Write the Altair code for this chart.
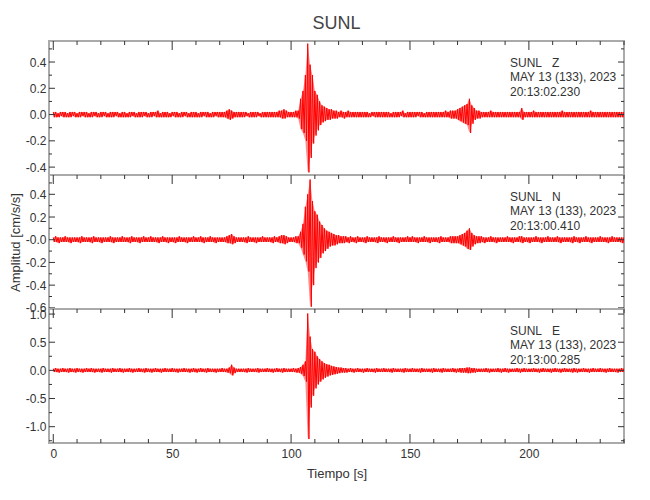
import altair as alt
import pandas as pd

FONT = "Liberation Sans, Arial, sans-serif"
TEXT = "#333333"
TICK = "#333333"
FRAME = "#aaaaaa"
TRACE = "#ff0000"

chart_title = "SUNL"
x_title = "Tiempo [s]"
y_title = "Amplitud [cm/s/s]"
station = "SUNL"
components = ["Z", "N", "E"]
date_text = "MAY 13 (133), 2023"
start_times = ["20:13:02.230", "20:13:00.410", "20:13:00.285"]

# sample times (s); each second holds one positive and one negative peak
t_seconds = list(range(0, 241))

# peak amplitudes in units of 0.01 cm/s/s, read per second from the plot
z_up = [2,2,1,2,2,2,1,2,2,2, 1,2,2,2,2,1,2,2,2,1, 2,2,2,1,2,2,2,2,1,2, 2,1,2,2,2,1,2,2,2,2,
        1,2,2,2,3,1,2,2,2,1, 2,2,2,1,2,2,2,1,2,2, 2,1,2,2,2,2,1,2,2,2, 2,2,2,3,4,3,2,2,2,2,
        2,2,1,2,2,2,2,1,2,2, 2,2,2,2,2,3,3,4,3,2, 2,2,3,3,12,18,30,54,38,30, 18,15,10,7,6,5,4,4,3,3,
        2,3,2,2,3,2,2,2,2,2, 2,2,2,1,2,2,2,2,2,2, 2,2,1,2,2,2,2,3,1,2, 2,2,2,2,2,2,1,2,2,2,
        2,2,2,2,2,3,2,3,3,3, 4,5,6,7,8,12,7,5,3,3, 2,2,2,2,3,2,2,2,2,2, 2,2,2,2,2,2,2,5,2,2,
        2,2,3,2,2,2,2,2,2,2, 2,2,2,2,3,2,2,2,2,2, 2,2,2,2,2,2,3,2,2,2, 2,2,2,2,2,2,2,2,2,2, 2]
z_lo = [-2,-2,-2,-1,-2,-2,-2,-2,-1,-2, -2,-2,-1,-2,-2,-2,-2,-1,-2,-2, -2,-1,-2,-2,-2,-2,-1,-2,-2,-2,
        -2,-2,-2,-1,-2,-2,-2,-2,-1,-2, -2,-2,-1,-2,-2,-2,-2,-2,-2,-2, -1,-2,-2,-2,-2,-1,-2,-2,-2,-2,
        -2,-2,-2,-1,-2,-2,-2,-2,-1,-2, -2,-2,-2,-3,-4,-3,-2,-2,-2,-2, -2,-1,-2,-2,-2,-2,-1,-2,-2,-2,
        -2,-2,-2,-2,-2,-2,-3,-3,-2,-2, -2,-2,-2,-3,-11,-14,-20,-44,-33,-22, -16,-12,-8,-6,-5,-4,-4,-3,-3,-3,
        -2,-2,-3,-2,-2,-2,-2,-2,-2,-2, -2,-2,-2,-2,-1,-2,-2,-2,-2,-2, -2,-2,-2,-2,-2,-2,-1,-2,-2,-2,
        -2,-2,-2,-1,-2,-2,-2,-2,-2,-2, -2,-2,-2,-2,-2,-2,-2,-3,-3,-3, -4,-5,-6,-7,-8,-14,-7,-4,-3,-3,
        -2,-2,-2,-2,-2,-2,-2,-2,-2,-2, -2,-2,-2,-2,-2,-2,-2,-4,-2,-2, -2,-2,-2,-2,-2,-2,-2,-2,-2,-2,
        -2,-2,-2,-2,-2,-2,-2,-2,-2,-2, -2,-2,-2,-2,-2,-2,-2,-2,-2,-2, -2,-2,-2,-2,-2,-2,-2,-2,-2,-2, -2]

n_up = [2,3,2,2,2,3,2,2,2,2, 2,2,3,2,2,2,2,3,2,2, 2,2,2,2,3,2,2,2,2,3, 2,2,2,3,2,2,2,2,3,2,
        2,3,2,2,2,2,3,2,2,2, 2,2,2,3,2,2,2,2,2,3, 2,2,3,2,2,2,3,2,2,2, 2,2,2,3,4,5,3,2,2,2,
        2,2,3,2,2,2,2,2,3,2, 2,2,2,3,2,3,4,4,3,2, 2,2,3,3,7,14,29,40,53,34, 25,22,16,13,10,8,7,6,5,4,
        4,3,3,3,2,3,2,2,3,2, 2,2,3,2,2,2,2,3,2,2, 2,2,2,3,2,2,2,2,2,3, 2,3,2,2,2,2,3,2,2,2,
        2,2,2,3,2,2,2,3,3,3, 3,4,5,6,8,10,6,4,3,3, 3,2,2,2,3,2,2,2,2,2, 2,3,2,2,2,2,3,3,2,2,
        2,2,2,3,2,2,2,2,3,2, 2,2,3,2,2,2,2,2,2,3, 2,2,2,2,3,2,2,2,2,2, 3,2,2,2,2,3,2,2,2,2, 2]
n_lo = [-2,-2,-3,-2,-2,-2,-2,-3,-2,-2, -2,-3,-2,-2,-2,-2,-3,-2,-2,-2, -3,-2,-2,-2,-2,-3,-2,-2,-2,-2,
        -2,-2,-3,-2,-2,-2,-3,-2,-2,-2, -2,-2,-2,-2,-3,-2,-2,-2,-3,-2, -2,-3,-2,-2,-2,-2,-3,-2,-2,-2,
        -2,-2,-2,-3,-2,-2,-2,-2,-3,-2, -2,-2,-2,-3,-3,-4,-3,-2,-2,-2, -2,-3,-2,-2,-2,-3,-2,-2,-2,-2,
        -2,-2,-3,-2,-2,-3,-3,-4,-3,-2, -2,-2,-3,-3,-7,-13,-19,-28,-59,-40, -25,-20,-16,-12,-10,-8,-6,-5,-5,-4,
        -3,-3,-3,-2,-3,-2,-2,-3,-2,-2, -2,-3,-2,-2,-2,-2,-3,-2,-2,-2, -3,-2,-2,-2,-2,-3,-2,-2,-2,-2,
        -2,-2,-2,-3,-2,-2,-2,-2,-3,-2, -2,-2,-3,-2,-2,-2,-2,-3,-3,-3, -3,-4,-5,-6,-8,-9,-6,-4,-3,-3,
        -2,-3,-2,-2,-2,-2,-3,-2,-2,-2, -2,-2,-2,-3,-2,-2,-2,-3,-2,-2, -3,-2,-2,-2,-2,-3,-2,-2,-2,-2,
        -2,-2,-2,-3,-2,-2,-2,-2,-3,-2, -2,-3,-2,-2,-2,-2,-3,-2,-2,-2, -2,-2,-2,-3,-2,-2,-2,-2,-2,-3, -2]

e_up = [3,4,3,3,4,3,3,4,3,3, 4,3,3,3,4,3,4,3,3,3, 3,4,3,3,3,4,3,3,4,3, 3,3,4,3,3,3,4,3,3,4,
        3,3,3,4,3,3,3,4,3,3, 4,3,3,3,3,4,3,3,3,4, 3,3,4,3,3,4,3,3,3,3, 3,4,3,3,5,10,5,3,3,3,
        3,3,4,3,3,3,4,3,3,3, 4,3,3,3,4,3,3,4,3,3, 3,4,3,4,6,10,16,101,60,38, 33,25,20,16,13,11,10,8,7,6,
        5,5,4,4,3,4,3,3,4,3, 3,3,4,3,3,3,4,3,3,4, 3,3,3,4,3,3,3,3,4,3, 3,4,3,3,3,4,3,3,3,3,
        4,3,3,3,4,3,3,3,4,3, 3,4,4,4,5,5,4,4,3,3, 3,3,4,3,3,3,3,4,3,3, 4,3,3,3,3,4,3,3,4,3,
        3,3,4,3,3,3,4,3,3,3, 3,4,3,3,3,4,3,3,3,4, 3,3,3,4,3,3,3,4,3,3, 4,3,3,3,4,3,3,3,3,4, 3]
e_lo = [-3,-3,-4,-3,-3,-3,-4,-3,-3,-4, -3,-3,-4,-3,-3,-3,-3,-4,-3,-3, -4,-3,-3,-3,-4,-3,-3,-3,-3,-4,
        -3,-3,-3,-4,-3,-3,-3,-3,-4,-3, -3,-4,-3,-3,-3,-4,-3,-3,-3,-3, -3,-3,-4,-3,-3,-3,-3,-4,-3,-3,
        -4,-3,-3,-3,-4,-3,-3,-3,-4,-3, -3,-3,-3,-4,-5,-9,-5,-3,-3,-3, -3,-4,-3,-3,-3,-3,-4,-3,-3,-3,
        -3,-3,-4,-3,-3,-3,-4,-3,-3,-3, -3,-3,-4,-4,-6,-10,-20,-122,-66,-45, -32,-25,-20,-16,-13,-11,-9,-8,-7,-6,
        -5,-4,-4,-4,-3,-3,-4,-3,-3,-3, -4,-3,-3,-3,-3,-4,-3,-3,-3,-3, -3,-3,-4,-3,-3,-3,-3,-4,-3,-3,
        -3,-3,-3,-3,-4,-3,-3,-3,-3,-4, -3,-3,-3,-4,-3,-3,-3,-3,-3,-4, -3,-4,-4,-4,-5,-5,-4,-4,-3,-3,
        -3,-3,-3,-4,-3,-3,-3,-3,-4,-3, -3,-4,-3,-3,-3,-3,-4,-3,-3,-3, -3,-3,-3,-3,-4,-3,-3,-3,-3,-4,
        -3,-3,-3,-4,-3,-3,-3,-3,-4,-3, -4,-3,-3,-3,-3,-4,-3,-3,-3,-3, -3,-3,-4,-3,-3,-3,-3,-4,-3,-3, -3]

uppers = [z_up, n_up, e_up]
lowers = [z_lo, n_lo, e_lo]
for arr in uppers + lowers:
    assert len(arr) == len(t_seconds), len(arr)

x_domain = [-1.8, 240]
y_domains = [[-0.46, 0.56], [-0.61, 0.57], [-1.29, 1.09]]
y_major = [[-0.4, -0.2, 0, 0.2, 0.4], [-0.6, -0.4, -0.2, 0, 0.2, 0.4], [-1.0, -0.5, 0, 0.5, 1.0]]
y_minor = [[-0.3, -0.1, 0.1, 0.3, 0.5], [-0.5, -0.3, -0.1, 0.1, 0.3, 0.5],
           [-1.25, -0.75, -0.25, 0.25, 0.75]]
x_major = [0, 50, 100, 150, 200]
x_minor = [10, 20, 30, 40, 60, 70, 80, 90, 110, 120, 130, 140, 160, 170, 180, 190, 210, 220, 230, 240]

W, H = 575, 134


def trace_frame(up, lo):
    rows = []
    for i, t in enumerate(t_seconds):
        rows.append({"t": t, "a": up[i] / 100.0, "k": 2 * i})
        rows.append({"t": t + 0.5, "a": lo[i] / 100.0, "k": 2 * i + 1})
    return pd.DataFrame(rows)


def panel(i):
    xs = alt.Scale(domain=x_domain, nice=False, zero=False)
    ys = alt.Scale(domain=y_domains[i], nice=False, zero=False)
    if i == 1:
        lab = "datum.value === 0 ? '-0.0' : replace(format(datum.value, '.1f'), '\u2212', '-')"
    else:
        lab = "replace(format(datum.value, '.1f'), '\u2212', '-')"
    y_axis_kw = dict(values=y_major[i], labelExpr=lab, ticks=False, domain=False, grid=False,
                     labelPadding=3, minExtent=22, maxExtent=22, titlePadding=5)
    y_axis = alt.Axis(**y_axis_kw)
    y_t = y_title if i == 1 else None
    if i == 2:
        x_axis = alt.Axis(values=x_major, format="d", ticks=False, domain=False, grid=False,
                          labelPadding=5, labelFlush=False, titlePadding=8)
        x_t = x_title
    else:
        x_axis = alt.Axis(labels=False, ticks=False, domain=False, grid=False)
        x_t = None

    def X(f):
        return alt.X(f, scale=xs, axis=x_axis, title=x_t)

    def Y(f):
        return alt.Y(f, scale=ys, axis=y_axis, title=y_t)

    env = pd.DataFrame({"t": t_seconds,
                        "up": [u / 100.0 for u in uppers[i]],
                        "lo": [l / 100.0 for l in lowers[i]]})
    band = alt.Chart(env).mark_area(color=TRACE, opacity=0.45, clip=True).encode(
        x=X("t:Q"), y=Y("up:Q"), y2="lo:Q")
    line = alt.Chart(trace_frame(uppers[i], lowers[i])).mark_line(
        color=TRACE, strokeWidth=1, clip=True
    ).encode(x=X("t:Q"), y=Y("a:Q"), order="k:Q")

    layers = [band, line]
    ymaj = pd.DataFrame({"v": y_major[i]})
    ymin = pd.DataFrame({"v": y_minor[i]})
    for df, ln in ((ymaj, 6), (ymin, 3)):
        layers.append(alt.Chart(df).mark_rule(color=TICK, strokeWidth=1).encode(
            y=Y("v:Q"), x=alt.value(0), x2=alt.value(ln)))
        layers.append(alt.Chart(df).mark_rule(color=TICK, strokeWidth=1).encode(
            y=Y("v:Q"), x=alt.value(W), x2=alt.value(W - ln)))
    xmaj = pd.DataFrame({"v": x_major})
    xmin = pd.DataFrame({"v": x_minor})
    for df, ln in ((xmaj, 9), (xmin, 4)):
        layers.append(alt.Chart(df).mark_rule(color=TICK, strokeWidth=1).encode(
            x=X("v:Q"), y=alt.value(0), y2=alt.value(ln)))
        if i == 2:
            layers.append(alt.Chart(df).mark_rule(color=TICK, strokeWidth=1).encode(
                x=X("v:Q"), y=alt.value(H), y2=alt.value(H - ln)))

    texts = [station + "\u00a0\u00a0\u00a0" + components[i], date_text, start_times[i]]
    for txt, yy in zip(texts, [21.5, 36, 50.5]):
        layers.append(alt.Chart(pd.DataFrame({"txt": [txt]})).mark_text(
            align="left", baseline="middle", font=FONT, fontSize=12, color=TEXT
        ).encode(x=alt.value(461), y=alt.value(yy), text="txt:N"))

    ch = alt.layer(*layers).properties(width=W, height=H)
    if i == 0:
        ch = ch.properties(title=alt.TitleParams(chart_title, anchor="middle", fontSize=18, font=FONT,
                                                 fontWeight="normal", color="#444444", offset=8))
    return ch


chart = alt.vconcat(panel(0), panel(1), panel(2), spacing=0, bounds="flush").properties(
    padding={"left": 0, "top": 5, "right": 5, "bottom": 5}
).configure_view(
    stroke=FRAME, strokeWidth=2
).configure_axis(
    labelFont=FONT, labelFontSize=12, labelColor=TEXT,
    titleFont=FONT, titleFontSize=13, titleFontWeight="normal", titleColor=TEXT
).configure_title(font=FONT)

chart.save("out.html", embed_options={"renderer": "svg", "actions": False})
